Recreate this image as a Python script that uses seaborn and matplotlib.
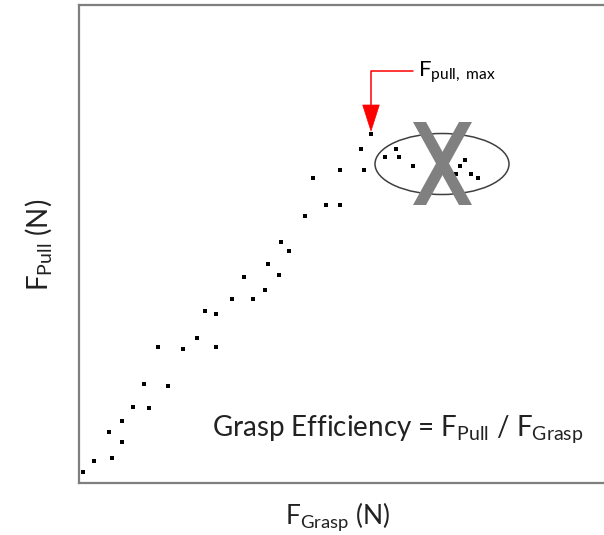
import numpy as np
import pandas as pd
import matplotlib
matplotlib.use("Agg")
import matplotlib.pyplot as plt
import seaborn as sns
from matplotlib.patches import Ellipse, Polygon

# ---- data ----
grasp_force = [0.37, 1.53, 3.30, 3.00, 4.27, 4.27, 5.40, 7.00, 6.53, 8.90,
               7.93, 10.37, 13.73, 11.80, 12.60, 13.73, 15.33, 17.43, 18.57, 16.47,
               20.00, 18.90, 20.97, 20.20, 22.57, 24.67, 26.10, 23.37, 26.10, 28.50,
               28.17, 29.20, 31.70, 30.57, 32.03, 33.43, 38.60, 38.10, 37.70, 39.23,
               39.87]
pull_force = [1.07, 2.17, 2.50, 5.07, 4.10, 6.20, 7.63, 7.47, 9.87, 9.70,
              13.57, 13.40, 13.57, 14.53, 17.23, 16.90, 18.40, 18.40, 19.33, 20.60,
              20.77, 21.90, 23.17, 24.13, 26.70, 27.83, 27.83, 30.53, 31.33, 31.33,
              33.43, 34.90, 33.43, 32.60, 32.60, 31.67, 32.33, 31.67, 30.87, 30.87,
              30.53]
x_label = r"$\mathrm{F_{Grasp}}$ (N)"
y_label = r"$\mathrm{F_{Pull}}$ (N)"
max_label = r"$\mathrm{F_{pull,\ max}}$"
eff_label = r"Grasp Efficiency = $\mathrm{F_{Pull}}$ / $\mathrm{F_{Grasp}}$"

df = pd.DataFrame({"grasp": grasp_force, "pull": pull_force})

sns.set_style("white")
plt.rcParams["font.family"] = ["Lato", "DejaVu Sans"]
plt.rcParams["mathtext.fontset"] = "custom"
plt.rcParams["mathtext.rm"] = "Lato"
plt.rcParams["mathtext.it"] = "Lato:italic"
plt.rcParams["mathtext.bf"] = "Lato:bold"

W, H = 604, 535
fig = plt.figure(figsize=(W / 100, H / 100), dpi=100)
ax = fig.add_axes([79 / W, 1 - 483 / H, 1 - 79 / W, (483 - 5) / H])

sns.scatterplot(data=df, x="grasp", y="pull", ax=ax, color="black",
                marker="s", s=5, linewidth=0, zorder=3)

ax.set_xlim(0, 52.5)
ax.set_ylim(0, 47.8)
ax.set_xticks([])
ax.set_yticks([])
ax.set_xlabel("")
ax.set_ylabel("")
for side in ["left", "bottom", "top"]:
    ax.spines[side].set_color("#7f7f7f")
    ax.spines[side].set_linewidth(1.6)
ax.spines["right"].set_visible(False)

# max point annotation
imax = int(np.argmax(pull_force))
mx, my = grasp_force[imax], pull_force[imax]
red = "#ff0000"
ax.plot([mx + 4.2, mx, mx], [my + 6.3, my + 6.3, my + 2.9], color=red, lw=1.1, zorder=4)
ax.add_patch(Polygon([(mx - 0.83, my + 2.9), (mx + 0.83, my + 2.9), (mx, my + 0.3)],
                     closed=True, facecolor=red, edgecolor=red, lw=0.5, zorder=4))
ax.text(mx + 4.7, my + 5.7, max_label, fontsize=16, color="black",
        ha="left", va="baseline")

# ellipse around the plateau / post-max points
ax.add_patch(Ellipse((36.3, 31.9), 13.4, 6.1, facecolor="none",
                     edgecolor="#404040", lw=1.1, zorder=4))
# big grey X
xg = "#808080"
ax.add_patch(Polygon([(33.4, 36.1), (34.7, 36.1), (39.3, 27.8), (38.0, 27.8)],
                     closed=True, facecolor=xg, edgecolor="none", zorder=5))
ax.add_patch(Polygon([(38.0, 36.1), (39.3, 36.1), (34.7, 27.8), (33.4, 27.8)],
                     closed=True, facecolor=xg, edgecolor="none", zorder=5))

ax.text(13.3, 4.7, eff_label, fontsize=20, color="#222222", ha="left", va="baseline")

fig.text(338 / W, 1 - 524 / H, x_label, fontsize=19, color="#222222",
         ha="center", va="baseline")
fig.text(38 / W, 1 - 245 / H, y_label, fontsize=20, color="#222222",
         ha="center", va="center", rotation=90)

fig.savefig("out.png", dpi=100)
